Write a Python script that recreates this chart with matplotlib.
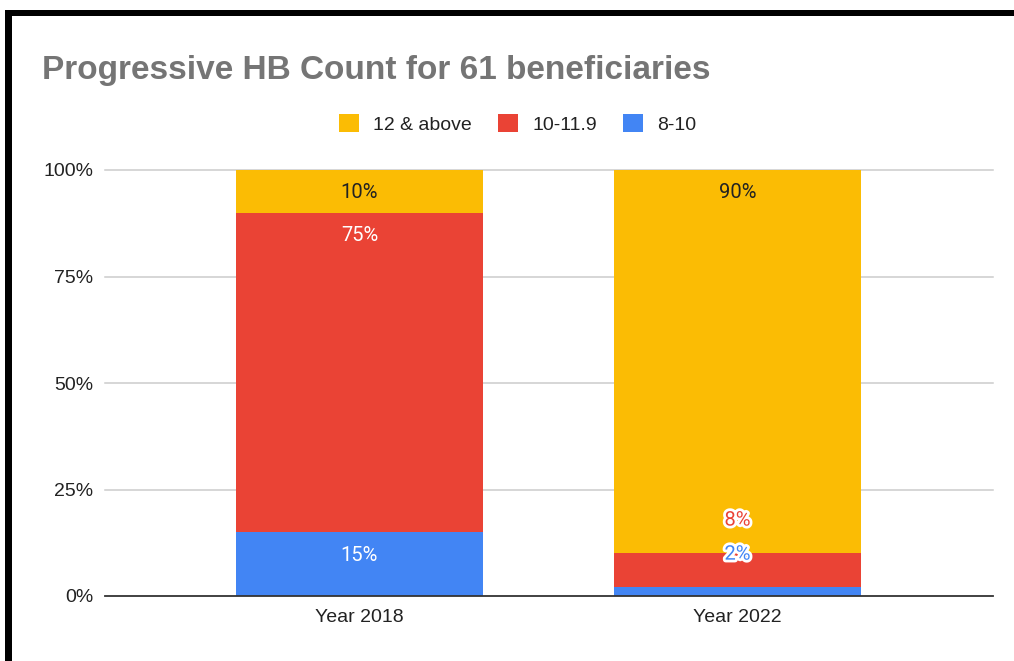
import matplotlib
matplotlib.use("Agg")
import matplotlib.pyplot as plt
from matplotlib.patches import Patch, Rectangle
import matplotlib.patheffects as pe
import numpy as np

# chart data
years = ["Year 2018", "Year 2022"]
series_names = ["8-10", "10-11.9", "12 & above"]
vals_8_10 = [15, 2]
vals_10_119 = [75, 8]
vals_12_up = [10, 90]
colors = ["#4285F4", "#EA4335", "#FBBC04"]
label_colors = ["white", "white", "#222222"]

W, H = 1014, 661
fig = plt.figure(figsize=(W / 100, H / 100), dpi=100)
fig.patch.set_facecolor("white")

# axes placed in pixel terms
ax = fig.add_axes([105 / W, (H - 596) / H, (993 - 105) / W, (596 - 170) / H])
ax.set_xlim(-0.673, 1.676)
ax.set_ylim(0, 100)

for s in ax.spines.values():
    s.set_visible(False)

for g in [25, 50, 75, 100]:
    ax.axhline(g, color="#cccccc", lw=1.1, zorder=0, clip_on=False)
ax.axhline(0, color="#333333", lw=1.3, zorder=3, clip_on=False)

x = np.arange(len(years))
bottom = np.zeros(len(years))
all_vals = [vals_8_10, vals_10_119, vals_12_up]
for i, (name, vals) in enumerate(zip(series_names, all_vals)):
    ax.bar(x, vals, bottom=bottom, width=0.653, color=colors[i], zorder=2)
    tops = bottom + np.array(vals)
    for xi, v, t in zip(x, vals, tops):
        if v >= 9:
            # room inside the segment: label near its top
            ax.annotate(f"{v}%", xy=(xi, t), xytext=(0, -16.5), textcoords="offset points",
                        ha="center", va="center", fontsize=14.5, family="Roboto",
                        color=label_colors[i], zorder=5)
        else:
            ax.annotate(f"{v}%", xy=(xi, t), xytext=(0, 24), textcoords="offset points",
                        ha="center", va="center", fontsize=14.5, family="Roboto",
                        color=colors[i], zorder=5,
                        path_effects=[pe.withStroke(linewidth=4, foreground="white")])
    bottom = tops

ax.set_yticks([0, 25, 50, 75, 100])
ax.set_yticklabels(["0%", "25%", "50%", "75%", "100%"])
ax.set_xticks(x)
ax.set_xticklabels(years)
ax.tick_params(axis="both", length=0, labelsize=14, labelcolor="#222222")
ax.tick_params(axis="y", pad=8.5)
ax.tick_params(axis="x", pad=9)
for lab in ax.get_xticklabels() + ax.get_yticklabels():
    lab.set_family("Liberation Sans")

fig.text(42 / W, 1 - 70 / H, "Progressive HB Count for 61 beneficiaries",
         fontsize=24, fontweight="bold", color="#757575", family="Liberation Sans",
         ha="left", va="center")

handles = [Patch(facecolor=colors[i], edgecolor="none") for i in [2, 1, 0]]
labels = [series_names[i] for i in [2, 1, 0]]
leg = fig.legend(handles, labels, loc="center", bbox_to_anchor=(518 / W, 1 - 124 / H),
                 ncol=3, frameon=False, handlelength=1.0, handleheight=1.0,
                 handletextpad=0.75, columnspacing=1.35,
                 prop={"family": "Liberation Sans", "size": 14})
for t in leg.get_texts():
    t.set_color("#222222")

# black frame along top and left edges
fig.patches.append(Rectangle((5 / W, (H - 16) / H), 1, 6 / H, transform=fig.transFigure,
                             facecolor="black", edgecolor="none", zorder=10))
fig.patches.append(Rectangle((5 / W, 0), 7 / W, (H - 10) / H, transform=fig.transFigure,
                             facecolor="black", edgecolor="none", zorder=10))

fig.savefig("out.png", dpi=100)
